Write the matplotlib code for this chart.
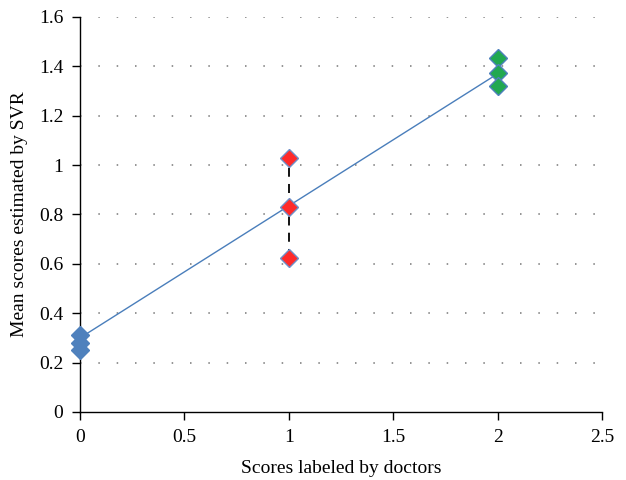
import matplotlib
matplotlib.use("Agg")
import matplotlib.pyplot as plt

# Data
blue_x = [0, 0, 0]
blue_y = [0.31, 0.28, 0.25]
red_x = [1, 1, 1]
red_y = [1.03, 0.83, 0.625]
green_x = [2, 2, 2]
green_y = [1.435, 1.375, 1.32]
fit_x = [0, 2]
fit_y = [0.30, 1.37]

plt.rcParams["font.family"] = ["Liberation Serif", "DejaVu Serif"]

fig = plt.figure(figsize=(6.26, 4.8), dpi=100)
ax = fig.add_axes([0.1278, 0.1417, 0.8339, 0.8229])

# dotted grid
for v in [0.2, 0.4, 0.6, 0.8, 1.0, 1.2, 1.4, 1.6]:
    ax.axhline(v, color="#777777", linestyle=(0, (1, 11)), linewidth=1.1, zorder=0)

ax.plot(fit_x, fit_y, color="#4a7ebb", linewidth=1.0, zorder=2)
ax.plot([red_x[0], red_x[0]], [min(red_y), max(red_y)], color="black",
        linestyle=(0, (5, 4)), linewidth=1.3, zorder=3)

ax.plot(blue_x, blue_y, "D", color="#4f81bd", markersize=9,
        markeredgecolor="#4f81bd", zorder=4, clip_on=False)
ax.plot(red_x, red_y, "D", color="#ff2a2a", markersize=9,
        markeredgecolor="#6f8fc8", markeredgewidth=1.0, zorder=4)
ax.plot(green_x, green_y, "D", color="#21a850", markersize=9,
        markeredgecolor="#4f81bd", markeredgewidth=1.0, zorder=4)

ax.set_xlim(0, 2.5)
ax.set_ylim(0, 1.6)
ax.set_xticks([0, 0.5, 1, 1.5, 2, 2.5])
ax.set_xticklabels(["0", "0.5", "1", "1.5", "2", "2.5"])
ax.set_yticks([0, 0.2, 0.4, 0.6, 0.8, 1.0, 1.2, 1.4, 1.6])
ax.set_yticklabels(["0", "0.2", "0.4", "0.6", "0.8", "1", "1.2", "1.4", "1.6"])

for s in ["top", "right"]:
    ax.spines[s].set_visible(False)
for s in ["left", "bottom"]:
    ax.spines[s].set_linewidth(1.0)
ax.tick_params(direction="out", length=6, width=1.0, labelsize=14, pad=6)
ax.set_xlabel("Scores labeled by doctors", fontsize=14, labelpad=10)
ax.set_ylabel("Mean scores estimated by SVR", fontsize=14, labelpad=8)

fig.savefig("out.png", dpi=100)
